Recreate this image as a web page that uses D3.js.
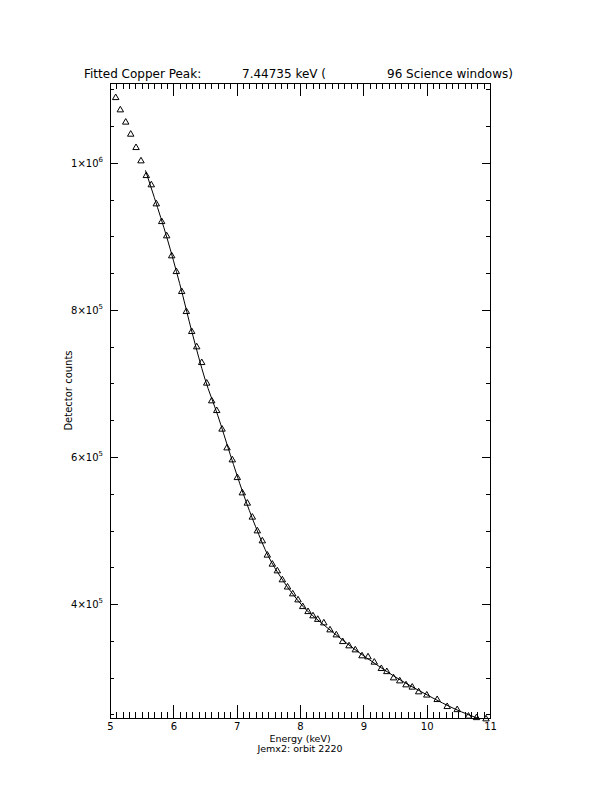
<!DOCTYPE html>
<html>
<head>
<meta charset="utf-8">
<script src="https://cdn.jsdelivr.net/npm/d3@7"></script>
<style>
  html, body { margin: 0; padding: 0; background: #fff; }
  svg { display: block; }
  text { font-family: "DejaVu Sans", "Liberation Sans", sans-serif; fill: #000; }
</style>
</head>
<body>
<svg id="chart" width="612" height="792"></svg>
<script>
// ---- data ----
const energy = [5.090, 5.163, 5.248, 5.327, 5.411, 5.489, 5.573, 5.652, 5.731, 5.816,
  5.895, 5.974, 6.047, 6.132, 6.205, 6.290, 6.369, 6.448, 6.527, 6.606,
  6.685, 6.769, 6.848, 6.931, 7.010, 7.089, 7.168, 7.247, 7.326, 7.405,
  7.484, 7.563, 7.642, 7.721, 7.803, 7.885, 7.969, 8.043, 8.127, 8.205,
  8.280, 8.376, 8.474, 8.573, 8.674, 8.774, 8.873, 8.979, 9.074, 9.173,
  9.284, 9.371, 9.477, 9.575, 9.674, 9.772, 9.874, 10.002, 10.166, 10.324,
  10.482, 10.660, 10.787, 10.937];
const counts = [1088800, 1072100, 1055400, 1039000, 1020800, 1002700, 982700, 970100, 944200, 920100,
  900700, 873500, 852100, 824900, 797700, 770500, 749700, 728300, 700300, 676200,
  663000, 637700, 612200, 595900, 571800, 551000, 537000, 518000, 499300, 485700,
  466300, 454000, 444900, 432700, 422900, 413600, 405400, 396300, 389500, 383700,
  378900, 374100, 364600, 357800, 348700, 342900, 337400, 329300, 327900, 320700,
  312000, 307800, 299300, 295200, 289800, 286700, 280300, 275900, 269800, 260300,
  256100, 247200, 245200, 243500];

const fitEnergy = [5.56, 5.70, 5.90, 6.10, 6.30, 6.50, 6.70, 6.90, 7.10, 7.30, 7.50, 7.70,
  7.90, 8.10, 8.30, 8.60, 8.90, 9.20, 9.50, 9.80, 10.10, 10.40, 10.70, 11.00];
const fitCounts = [990000, 953000, 898000, 836000, 768000, 706000, 657000, 603000, 551000,
  505000, 465000, 436000, 412000, 392000, 377000, 356000, 336000, 318000, 301000, 286000,
  272000, 259000, 248000, 239000];

const xMajorTicks = [5, 6, 7, 8, 9, 10, 11];
const yMajorTicks = [400000, 600000, 800000, 1000000];
const yTickLabels = [["4×10", "5"], ["6×10", "5"], ["8×10", "5"], ["1×10", "6"]];

const titleParts = ["Fitted Copper Peak:", "7.44735 keV (", "96 Science windows)"];
const xTitle = "Energy (keV)";
const xSubtitle = "Jemx2: orbit 2220";
const yTitle = "Detector counts";

// ---- layout ----
const L = 110, R = 490, T = 83, B = 718;
const svg = d3.select("#chart");

const x = d3.scaleLinear().domain([5, 11]).range([L, R]);
const y = d3.scaleLinear().domain([244900, 1108840]).range([B, T]);

const xMinor = d3.range(5, 11.0001, 0.1).map(v => +v.toFixed(2)).filter(v => !xMajorTicks.some(m => Math.abs(m - v) < 1e-6));
const yMinor = d3.range(250000, 1108840, 50000).filter(v => !yMajorTicks.includes(v));

// frame
svg.append("rect").attr("x", L).attr("y", T).attr("width", R - L).attr("height", B - T)
  .attr("fill", "none").attr("stroke", "#000").attr("stroke-width", 1)
  .attr("shape-rendering", "crispEdges");

function styleAxis(g) {
  g.select(".domain").remove();
  g.selectAll("line").attr("stroke", "#000").attr("shape-rendering", "crispEdges");
}
// bottom
svg.append("g").attr("transform", `translate(0,${B})`)
  .call(d3.axisBottom(x).tickValues(xMajorTicks).tickSize(-13).tickFormat(d3.format("d")))
  .call(styleAxis)
  .call(g => g.selectAll("text").attr("font-size", 10).attr("dy", null).attr("y", 12).attr("fill", "#000"));
svg.append("g").attr("transform", `translate(0,${B})`)
  .call(d3.axisBottom(x).tickValues(xMinor).tickSize(-6).tickFormat(""))
  .call(styleAxis);
// top
svg.append("g").attr("transform", `translate(0,${T})`)
  .call(d3.axisTop(x).tickValues(xMajorTicks).tickSize(-13).tickFormat(""))
  .call(styleAxis);
svg.append("g").attr("transform", `translate(0,${T})`)
  .call(d3.axisTop(x).tickValues(xMinor).tickSize(-6).tickFormat(""))
  .call(styleAxis);
// left
svg.append("g").attr("transform", `translate(${L},0)`)
  .call(d3.axisLeft(y).tickValues(yMajorTicks).tickSize(-8).tickFormat(""))
  .call(styleAxis);
svg.append("g").attr("transform", `translate(${L},0)`)
  .call(d3.axisLeft(y).tickValues(yMinor).tickSize(-4).tickFormat(""))
  .call(styleAxis);
// right
svg.append("g").attr("transform", `translate(${R},0)`)
  .call(d3.axisRight(y).tickValues(yMajorTicks).tickSize(-8).tickFormat(""))
  .call(styleAxis);
svg.append("g").attr("transform", `translate(${R},0)`)
  .call(d3.axisRight(y).tickValues(yMinor).tickSize(-4).tickFormat(""))
  .call(styleAxis);

// y tick labels with superscript
yMajorTicks.forEach((v, i) => {
  const t = svg.append("text").attr("x", 103).attr("y", y(v) + 4)
    .attr("text-anchor", "end").attr("font-size", 10);
  t.append("tspan").text(yTickLabels[i][0]);
  t.append("tspan").attr("font-size", 7).attr("dy", -5).text(yTickLabels[i][1]);
});

// titles
const titleX = [84, 242, 387];
titleParts.forEach((s, i) => {
  svg.append("text").attr("x", titleX[i]).attr("y", 78).attr("font-size", 12).text(s);
});
svg.append("text").attr("x", (L + R) / 2).attr("y", 742).attr("text-anchor", "middle")
  .attr("font-size", 9.5).text(xTitle);
svg.append("text").attr("x", (L + R) / 2).attr("y", 752).attr("text-anchor", "middle")
  .attr("font-size", 9.5).text(xSubtitle);
svg.append("text").attr("transform", `translate(72,${(T + B) / 2 - 10}) rotate(-90)`)
  .attr("text-anchor", "middle").attr("font-size", 10).text(yTitle);

// clip
svg.append("clipPath").attr("id", "plotclip").append("rect")
  .attr("x", L).attr("y", T).attr("width", R - L).attr("height", B - T);

// fitted curve
const fit = fitEnergy.map((e, i) => [e, fitCounts[i]]);
svg.append("path").datum(fit)
  .attr("clip-path", "url(#plotclip)")
  .attr("fill", "none").attr("stroke", "#000").attr("stroke-width", 1)
  .attr("d", d3.line().x(d => x(d[0])).y(d => y(d[1])).curve(d3.curveMonotoneX));

// data triangles
const tri = d3.symbol(d3.symbolTriangle).size(18);
svg.append("g").selectAll("path").data(energy.map((e, i) => [e, counts[i]])).join("path")
  .attr("transform", d => `translate(${x(d[0])},${y(d[1])})`)
  .attr("d", tri)
  .attr("fill", "none").attr("stroke", "#000").attr("stroke-width", 1);
</script>
</body>
</html>
